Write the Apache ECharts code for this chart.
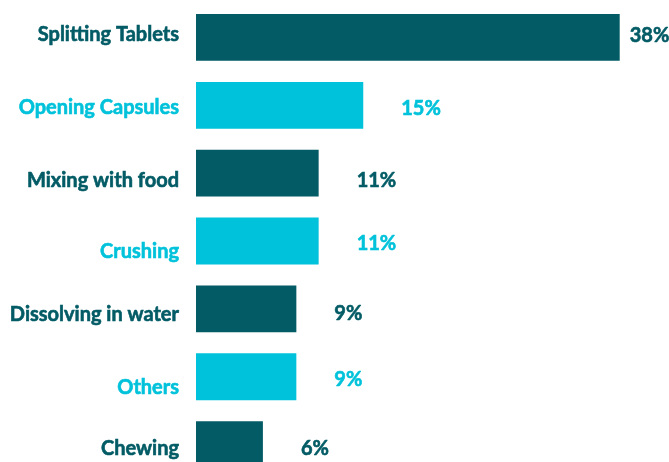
<!DOCTYPE html>
<html>
<head>
<meta charset="utf-8">
<script src="https://cdn.jsdelivr.net/npm/echarts@6/dist/echarts.min.js"></script>
<style>
html,body{margin:0;padding:0;background:#fff;}
#chart{width:669px;height:462px;}
</style>
</head>
<body>
<div id="chart"></div>
<script>
// Data
var categories = ["Splitting Tablets", "Opening Capsules", "Mixing with food", "Crushing", "Dissolving in water", "Others", "Chewing"];
var values = [38, 15, 11, 11, 9, 9, 6];

// Styles (not data)
var DARK = "#025b65", CYAN = "#00c2da";
var colors = [DARK, CYAN, DARK, CYAN, DARK, CYAN, DARK];
var catShift = [-3, 2.5, 7.5, 10.5, 6, 11, 4];
var valShift = [-1.5, 3.5, 7.5, 3, 4.5, 3, 4];
var valDist = [10, 38, 38, 38, 38, 38, 38];
var FONT = "Lato";

var rich = {};
categories.forEach(function (c, i) {
  var d = catShift[i];
  rich["r" + i] = {
    color: colors[i], fontFamily: FONT, fontWeight: "bold", fontSize: 20,
    textBorderColor: colors[i], textBorderWidth: 0.6,
    padding: d >= 0 ? [2 * d, 0, 0, 0] : [0, 0, -2 * d, 0]
  };
});

var seriesData = values.map(function (v, i) {
  return {
    value: v,
    itemStyle: { color: colors[i] },
    label: { color: colors[i], textBorderColor: colors[i], distance: valDist[i], offset: [0, valShift[i]] }
  };
});

var chart = echarts.init(document.getElementById("chart"));
chart.setOption({
  animation: false,
  grid: { left: 196, width: 446, top: 3.5, bottom: -16.5, containLabel: false, outerBoundsMode: "none" },
  xAxis: { type: "value", min: 0, max: 40, show: false },
  yAxis: {
    type: "category", data: categories, inverse: true,
    axisLine: { show: false }, axisTick: { show: false }, splitLine: { show: false },
    axisLabel: {
      margin: 17,
      formatter: function (v, i) { return "{r" + i + "|" + v + "}"; },
      rich: rich
    }
  },
  series: [{
    type: "bar", data: seriesData, barCategoryGap: "31%",
    label: {
      show: true, position: "right", formatter: "{c}%",
      fontFamily: FONT, fontWeight: "bold", fontSize: 20, textBorderWidth: 0.6
    }
  }]
});
</script>
</body>
</html>
